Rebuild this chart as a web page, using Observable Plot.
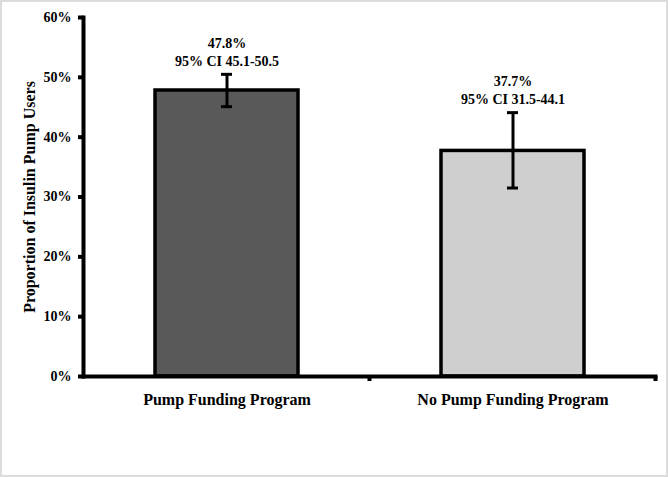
<!DOCTYPE html>
<html>
<head>
<meta charset="utf-8">
<script src="https://cdn.jsdelivr.net/npm/d3@7"></script>
<script src="https://cdn.jsdelivr.net/npm/@observablehq/plot@0.6"></script>
<style>
  html, body { margin: 0; padding: 0; background: #fff; }
  #wrap { position: relative; width: 668px; height: 477px; }
  #border { position: absolute; left: 0; top: 0; width: 664px; height: 473px; border: 2px solid #dcdcdc; pointer-events: none; }
</style>
</head>
<body>
<div id="wrap"><div id="border"></div></div>
<script>
const categories = ["Pump Funding Program", "No Pump Funding Program"];
const values = [47.8, 37.7];
const ciLow = [45.1, 31.5];
const ciHigh = [50.5, 44.1];
const colors = ["#595959", "#d0cfcf"];
const yTicks = [0, 10, 20, 30, 40, 50, 60];
const yLabel = "Proportion of Insulin Pump Users";

const data = categories.map((c, i) => ({
  cat: c, value: values[i], lo: ciLow[i], hi: ciHigh[i], color: colors[i],
  l1: values[i].toFixed(1) + "%",
  l2: "95% CI " + ciLow[i].toFixed(1) + "-" + ciHigh[i].toFixed(1)
}));

const font = "'Liberation Serif', 'Times New Roman', serif";

// tick marks at band boundaries (category axis style)
function boundaryTicks(index, scales, values, dims) {
  const x = scales.x, y = scales.y;
  const step = x.step(), bw = x.bandwidth();
  const g = d3.create("svg:g");
  const y0 = y(0);
  categories.forEach(c => {
    const xr = x(c) + bw + (step - bw) / 2;
    g.append("line").attr("x1", xr).attr("x2", xr).attr("y1", y0).attr("y2", y0 + 5)
      .attr("stroke", "black").attr("stroke-width", 4);
  });
  return g.node();
}

const chart = Plot.plot({
  width: 668,
  height: 477,
  marginTop: 17,
  marginBottom: 101,
  marginLeft: 83,
  marginRight: 13,
  style: { fontFamily: font, background: "white", color: "black" },
  x: { domain: categories, paddingInner: 0.5, paddingOuter: 0.25 },
  y: { domain: [0, 60] },
  marks: [
    Plot.barY(data, { x: "cat", y: "value", fill: "color", stroke: "black", strokeWidth: 3.5 }),
    Plot.ruleX(data, { x: "cat", y1: "lo", y2: "hi", stroke: "black", strokeWidth: 3 }),
    Plot.tickY(data, { x: "cat", y: "lo", insetLeft: 66, insetRight: 66, stroke: "black", strokeWidth: 3 }),
    Plot.tickY(data, { x: "cat", y: "hi", insetLeft: 66, insetRight: 66, stroke: "black", strokeWidth: 3 }),
    Plot.text(data, { x: "cat", y: "hi", text: "l2", dy: -13, fontSize: 14, fontWeight: "bold", fill: "black" }),
    Plot.text(data, { x: "cat", y: "hi", text: "l1", dy: -31, fontSize: 14, fontWeight: "bold", fill: "black" }),
    Plot.frame({ anchor: "left", stroke: "black", strokeWidth: 4 }),
    Plot.frame({ anchor: "bottom", stroke: "black", strokeWidth: 4 }),
    boundaryTicks,
    Plot.axisY({
      ticks: yTicks, tickFormat: d => d + "%", tickSize: 5, strokeWidth: 4, tickPadding: 7,
      fontSize: 14, fontWeight: "bold", label: null
    }),
    Plot.axisY({
      ticks: [], tickSize: 0, fontSize: 16, fontWeight: "bold",
      label: yLabel, labelAnchor: "center", labelOffset: 60, labelArrow: false
    }),
    Plot.axisX({ tickSize: 0, tickPadding: 17, fontSize: 16, fontWeight: "bold", label: null })
  ]
});
chart.querySelectorAll("text").forEach(t => { t.style.fontFamily = font; });
document.getElementById("wrap").prepend(chart);
</script>
</body>
</html>
